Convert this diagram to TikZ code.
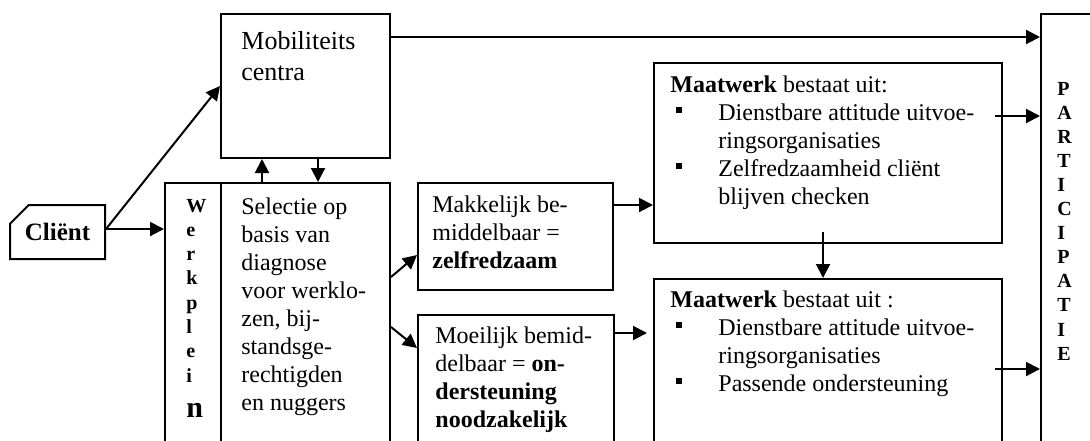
\documentclass[tikz,border=0pt]{standalone}
\usepackage{fontspec}
\setmainfont{Liberation Serif}
\usetikzlibrary{arrows.meta,shapes.misc}

\newcommand{\bulit}{\makebox[24pt][l]{\hspace*{3pt}\rule[4pt]{2.6pt}{2.6pt}}}
\newcommand{\contl}{\hspace*{24pt}}

\begin{document}
\begin{tikzpicture}[x=0.5pt,y=-0.5pt,
  box/.style={draw,line width=1pt,anchor=north west,inner sep=0pt},
  txt/.style={anchor=north west,inner sep=0pt,align=left,font=\fontsize{12}{14}\selectfont},
  vlet/.style={anchor=base west,inner sep=0pt,font=\fontsize{10}{12}\selectfont\bfseries},
  arr/.style={-{Triangle[length=7pt,width=7pt]},line width=1pt}]
\useasboundingbox (0,0) rectangle (1090,440);
\clip (0,0) rectangle (1090,440);

\node[draw,line width=1pt,chamfered rectangle,chamfered rectangle corners=north west,
  chamfered rectangle xsep=10pt,chamfered rectangle ysep=5pt,
  minimum width=47.5pt,minimum height=27pt,inner sep=0pt,
  font=\fontsize{12.5}{14}\selectfont\bfseries] (client) at (57.5,232) {Cliënt};
\node[box,minimum width=84.5pt,minimum height=72pt] (mob) at (220,13) {};
\node[box,minimum width=28pt,minimum height=150pt] (wp) at (164,182) {};
\node[box,minimum width=84.5pt,minimum height=150pt] (sel) at (220,182) {};
\node[box,minimum width=97.5pt,minimum height=53.5pt] (mak) at (417,182) {};
\node[box,minimum width=98pt,minimum height=150pt] (moe) at (417,314) {};
\node[box,minimum width=174pt,minimum height=90pt] (maat1) at (653,62) {};
\node[box,minimum width=174pt,minimum height=100pt] (maat2) at (653,278) {};
\node[box,minimum width=100pt,minimum height=250pt] (part) at (1040,13) {};

\node[txt,font=\fontsize{13}{15.5}\selectfont] (mobtxt) at (241,31) {Mobiliteits\\centra};
\node[txt] (seltxt) at (241,197.5) {Selectie op\\basis van\\diagnose\\voor werklo-\\zen, bij-\\standsge-\\rechtigden\\en nuggers};
\node[txt] (maktxt) at (432,195.5) {Makkelijk be-\\middelbaar =\\\textbf{zelfredzaam}};
\node[txt] (moetxt) at (435,326.5) {Moeilijk bemid-\\delbaar = \textbf{on-}\\\textbf{dersteuning}\\\textbf{noodzakelijk}};
\node[txt] (maat1txt) at (670,75.6) {\textbf{Maatwerk} bestaat uit:\\\bulit Dienstbare attitude uitvoe-\\\contl ringsorganisaties\\\bulit Zelfredzaamheid cliënt\\\contl blijven checken};
\node[txt] (maat2txt) at (670,290.6) {\textbf{Maatwerk} bestaat uit :\\\bulit Dienstbare attitude uitvoe-\\\contl ringsorganisaties\\\bulit Passende ondersteuning};

\foreach \l [count=\i from 0] in {W,e,r,k,p,l,e,i}
  \node[vlet] (wp-\i) at (186,212+24.3*\i) {\l};
\node[vlet,font=\fontsize{15}{16}\selectfont\bfseries] (wp-n) at (186,417) {n};
\foreach \l [count=\i from 0] in {P,A,R,T,I,C,I,P,A,T,I,E}
  \node[vlet] (pa-\i) at (1057,95+24.1*\i) {\l};

\draw[arr] ([yshift=1.5pt]client.east) -- ([yshift=1.5pt]client.east -| wp.west);
\draw[arr] ([yshift=1.5pt]client.east) -- (mob.west);
\draw[arr] ([xshift=21pt]sel.north west) -- ([xshift=21pt]sel.north west |- mob.south);
\draw[arr] ([xshift=49pt]mob.south west) -- ([xshift=49pt]mob.south west |- sel.north);
\draw[arr] ([yshift=-12pt]mob.north east) -- ([yshift=-12pt]mob.north east -| part.west);
\draw[arr] ([yshift=-47.5pt]sel.north east) -- ([yshift=-36.5pt]mak.north west);
\draw[arr] ([yshift=-72.5pt]sel.north east) -- ([yshift=-17pt]moe.north west);
\draw[arr] ([yshift=-11.5pt]mak.north east) -- ([yshift=-11.5pt]mak.north east -| maat1.west);
\draw[arr,shorten >=3pt] ([yshift=-9.5pt]moe.north east) -- ([yshift=-9.5pt]moe.north east -| maat2.west);
\draw[arr] ([xshift=-2.5pt,yshift=6pt]maat1.south) -- ([xshift=-2.5pt]maat1.south |- maat2.north);
\draw[arr] ([xshift=-4pt,yshift=-27pt]maat1.north east) -- ([yshift=-27pt]maat1.north east -| part.west);
\draw[arr] ([xshift=-4pt,yshift=-45.5pt]maat2.north east) -- ([yshift=-45.5pt]maat2.north east -| part.west);
\end{tikzpicture}
\end{document}
